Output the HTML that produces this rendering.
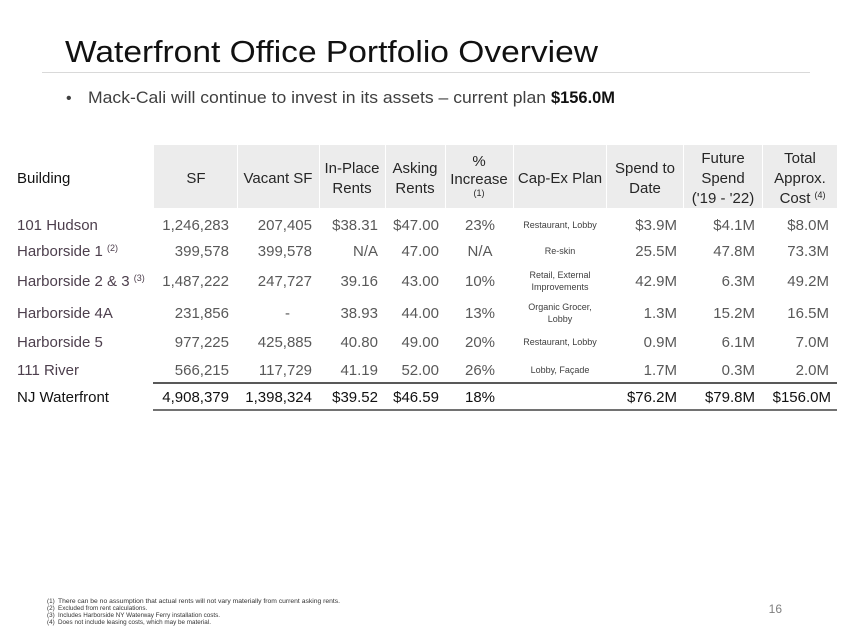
<!DOCTYPE html>
<html><head><meta charset="utf-8"><style>
html,body{margin:0;padding:0;background:#fff;}
svg{display:block;font-family:"Liberation Sans",sans-serif;}
</style></head><body>
<svg width="850" height="636" viewBox="0 0 850 636" xmlns="http://www.w3.org/2000/svg">
<text x="65" y="62" font-size="31" fill="#111" textLength="533" lengthAdjust="spacingAndGlyphs">Waterfront Office Portfolio Overview</text>
<line x1="42" y1="72.5" x2="810" y2="72.5" stroke="#d9d9d9" stroke-width="1"/>
<text x="66" y="103" font-size="16" fill="#404040">•</text>
<text x="88" y="103" font-size="17" fill="#404040" textLength="458" lengthAdjust="spacingAndGlyphs">Mack-Cali will continue to invest in its assets – current plan</text>
<text x="551" y="103" font-size="17" font-weight="bold" fill="#111" textLength="64" lengthAdjust="spacingAndGlyphs">$156.0M</text>

<g fill="#ececec">
<rect x="154" y="145" width="83" height="63"/><rect x="238" y="145" width="81" height="63"/>
<rect x="320" y="145" width="65" height="63"/><rect x="386" y="145" width="59" height="63"/>
<rect x="446" y="145" width="67" height="63"/><rect x="514" y="145" width="92" height="63"/>
<rect x="607" y="145" width="76" height="63"/><rect x="684" y="145" width="78" height="63"/>
<rect x="763" y="145" width="74" height="63"/>
</g>
<g font-size="15" fill="#262626" text-anchor="middle">
<text x="17" y="183" text-anchor="start" fill="#111">Building</text>
<text x="196" y="183">SF</text>
<text x="278" y="183">Vacant SF</text>
<text x="352" y="173">In-Place</text><text x="352" y="193">Rents</text>
<text x="415" y="173">Asking</text><text x="415" y="193">Rents</text>
<text x="479" y="166">%</text><text x="479" y="184">Increase</text>
<text x="479" y="196" font-size="9">(1)</text>
<text x="560" y="183">Cap-Ex Plan</text>
<text x="645" y="173">Spend to</text><text x="645" y="193">Date</text>
<text x="723" y="163">Future</text><text x="723" y="183">Spend</text><text x="723" y="203">('19 - '22)</text>
<text x="800" y="163">Total</text><text x="800" y="183">Approx.</text>
<text x="795" y="203">Cost</text><text x="820" y="198" font-size="9">(4)</text>
</g>

<g font-size="15" fill="#595959">
<g fill="#4d3f4d">
<text x="17" y="230">101 Hudson</text>
<text x="17" y="256">Harborside 1 <tspan font-size="9" dy="-5">(2)</tspan></text>
<text x="17" y="286">Harborside 2 &amp; 3 <tspan font-size="9" dy="-5">(3)</tspan></text>
<text x="17" y="318">Harborside 4A</text>
<text x="17" y="347">Harborside 5</text>
<text x="17" y="375">111 River</text>
</g>
<g text-anchor="end">
<text x="229" y="230">1,246,283</text><text x="312" y="230">207,405</text><text x="378" y="230">$38.31</text><text x="439" y="230">$47.00</text>
<text x="229" y="256">399,578</text><text x="312" y="256">399,578</text><text x="378" y="256">N/A</text><text x="439" y="256">47.00</text>
<text x="229" y="286">1,487,222</text><text x="312" y="286">247,727</text><text x="378" y="286">39.16</text><text x="439" y="286">43.00</text>
<text x="229" y="318">231,856</text><text x="290" y="318">-</text><text x="378" y="318">38.93</text><text x="439" y="318">44.00</text>
<text x="229" y="347">977,225</text><text x="312" y="347">425,885</text><text x="378" y="347">40.80</text><text x="439" y="347">49.00</text>
<text x="229" y="375">566,215</text><text x="312" y="375">117,729</text><text x="378" y="375">41.19</text><text x="439" y="375">52.00</text>

<text x="677" y="230">$3.9M</text><text x="755" y="230">$4.1M</text><text x="829" y="230">$8.0M</text>
<text x="677" y="256">25.5M</text><text x="755" y="256">47.8M</text><text x="829" y="256">73.3M</text>
<text x="677" y="286">42.9M</text><text x="755" y="286">6.3M</text><text x="829" y="286">49.2M</text>
<text x="677" y="318">1.3M</text><text x="755" y="318">15.2M</text><text x="829" y="318">16.5M</text>
<text x="677" y="347">0.9M</text><text x="755" y="347">6.1M</text><text x="829" y="347">7.0M</text>
<text x="677" y="375">1.7M</text><text x="755" y="375">0.3M</text><text x="829" y="375">2.0M</text>
</g>
<g text-anchor="middle">
<text x="480" y="230">23%</text><text x="480" y="256">N/A</text><text x="480" y="286">10%</text>
<text x="480" y="318">13%</text><text x="480" y="347">20%</text><text x="480" y="375">26%</text>
</g>
<g text-anchor="middle" font-size="9" fill="#404040">
<text x="560" y="228">Restaurant, Lobby</text>
<text x="560" y="254">Re-skin</text>
<text x="560" y="278">Retail, External</text><text x="560" y="290">Improvements</text>
<text x="560" y="310">Organic Grocer,</text><text x="560" y="322">Lobby</text>
<text x="560" y="345">Restaurant, Lobby</text>
<text x="560" y="373">Lobby, Façade</text>
</g>
</g>
<line x1="153" y1="383" x2="837" y2="383" stroke="#222" stroke-width="1.5"/>
<g font-size="15" fill="#111">
<text x="17" y="402">NJ Waterfront</text>
<g text-anchor="end">
<text x="229" y="402">4,908,379</text><text x="312" y="402">1,398,324</text><text x="378" y="402">$39.52</text><text x="439" y="402">$46.59</text>
<text x="677" y="402">$76.2M</text><text x="755" y="402">$79.8M</text><text x="831" y="402">$156.0M</text>
</g>
<text x="480" y="402" text-anchor="middle">18%</text>
</g>
<line x1="153" y1="410" x2="837" y2="410" stroke="#444" stroke-width="1.5"/>

<g font-size="6.3" fill="#333">
<text x="47" y="603">(1)</text><text x="58" y="603" textLength="282" lengthAdjust="spacingAndGlyphs">There can be no assumption that actual rents will not vary materially from current asking rents.</text>
<text x="47" y="610">(2)</text><text x="58" y="610">Excluded from rent calculations.</text>
<text x="47" y="617">(3)</text><text x="58" y="617">Includes Harborside NY Waterway Ferry installation costs.</text>
<text x="47" y="624">(4)</text><text x="58" y="624">Does not include leasing costs, which may be material.</text>
</g>
<text x="782" y="613" font-size="12" fill="#7f7f7f" text-anchor="end">16</text>
</svg>
</body></html>
